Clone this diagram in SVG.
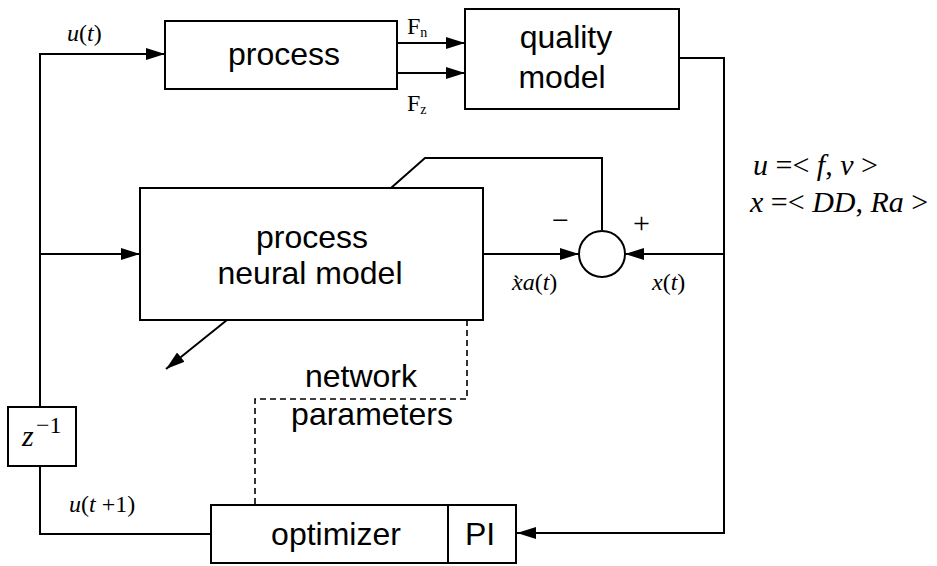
<svg xmlns="http://www.w3.org/2000/svg" width="937" height="566" viewBox="0 0 937 566">
<style>
.box{fill:#fff;stroke:#000;stroke-width:2}
.ln{fill:none;stroke:#000;stroke-width:2}
.dash{fill:none;stroke:#000;stroke-width:1.6;stroke-dasharray:6 4}
.t{font-family:"Liberation Sans",Arial,sans-serif;font-size:32px;fill:#000}
.m{font-family:"Liberation Serif","Times New Roman",serif;font-size:24px;fill:#000}
.i{font-style:italic}
.eq{font-family:"Liberation Serif","Times New Roman",serif;font-size:30px;fill:#000}
</style>
<defs>
<marker id="ah" markerWidth="20" markerHeight="14" refX="19" refY="7" orient="auto" markerUnits="userSpaceOnUse">
<path d="M0,1 L19,7 L0,13 Z" fill="#000"/>
</marker>
</defs>

<g id="connectors">
<path class="ln" d="M40,407 L40,54 L165,54" marker-end="url(#ah)"/>
<path class="ln" d="M40,254 L140,254" marker-end="url(#ah)"/>
<path class="ln" d="M397,43 L465,43" marker-end="url(#ah)"/>
<path class="ln" d="M397,73 L465,73" marker-end="url(#ah)"/>
<path class="ln" d="M679,58 L724,58 L724,533 L517,533" marker-end="url(#ah)"/>
<path class="ln" d="M724,254 L625,254" marker-end="url(#ah)"/>
<path class="ln" d="M483,254 L579,254" marker-end="url(#ah)"/>
<path class="ln" d="M391,188 L425,158 L602,158 L602,230"/>
<path class="ln" d="M227,320 L166,369" marker-end="url(#ah)"/>
<path class="ln" d="M40,466 L40,534 L211,534"/>
<path class="dash" d="M467,320 L467,399 L255,399 L255,505"/>
</g>

<g id="process">
<rect class="box" x="165" y="21" width="232" height="68"/>
<text class="t" x="284" y="65" text-anchor="middle">process</text>
</g>

<g id="quality-model">
<rect class="box" x="465" y="9" width="214" height="100"/>
<text class="t" x="566" y="48" text-anchor="middle">quality</text>
<text class="t" x="562" y="88" text-anchor="middle">model</text>
</g>

<g id="neural-model">
<rect class="box" x="140" y="188" width="343" height="132"/>
<text class="t" x="312" y="248" text-anchor="middle">process</text>
<text class="t" x="310" y="284" text-anchor="middle">neural model</text>
</g>

<g id="sum">
<circle class="box" cx="602" cy="254" r="23"/>
<text class="eq" x="552" y="230">−</text>
<text class="eq" x="633" y="233">+</text>
</g>

<g id="delay">
<rect class="box" x="8" y="407" width="68" height="59"/>
<text class="eq i" x="22" y="446">z</text>
<text class="m" x="36" y="433" font-size="19">−1</text>
</g>

<g id="optimizer">
<rect class="box" x="211" y="505" width="305" height="58"/>
<line class="ln" x1="448" y1="505" x2="448" y2="563"/>
<text class="t" x="336" y="545" text-anchor="middle">optimizer</text>
<text class="t" x="480" y="545" text-anchor="middle">PI</text>
</g>

<g id="labels">
<text class="m" x="67" y="41"><tspan class="i">u</tspan>(<tspan class="i">t</tspan>)</text>
<text class="m" x="407" y="34">F<tspan font-size="14" dy="3">n</tspan></text>
<text class="m" x="407" y="111">F<tspan font-size="14" dy="3">z</tspan></text>
<text class="m" x="512" y="290"><tspan class="i">x̀a</tspan>(<tspan class="i">t</tspan>)</text>
<text class="m" x="652" y="290"><tspan class="i">x</tspan>(<tspan class="i">t</tspan>)</text>
<text class="m" x="69" y="512"><tspan class="i">u</tspan>(<tspan class="i">t</tspan> +1)</text>
<text class="t" x="361" y="387" text-anchor="middle">network</text>
<text class="t" x="372" y="425" text-anchor="middle">parameters</text>
<text class="eq" x="753" y="175"><tspan class="i">u</tspan> =&lt; <tspan class="i">f</tspan>, <tspan class="i">v</tspan> &gt;</text>
<text class="eq" x="750" y="212"><tspan class="i">x</tspan> =&lt; <tspan class="i">DD</tspan>, <tspan class="i">Ra</tspan> &gt;</text>
</g>
</svg>
